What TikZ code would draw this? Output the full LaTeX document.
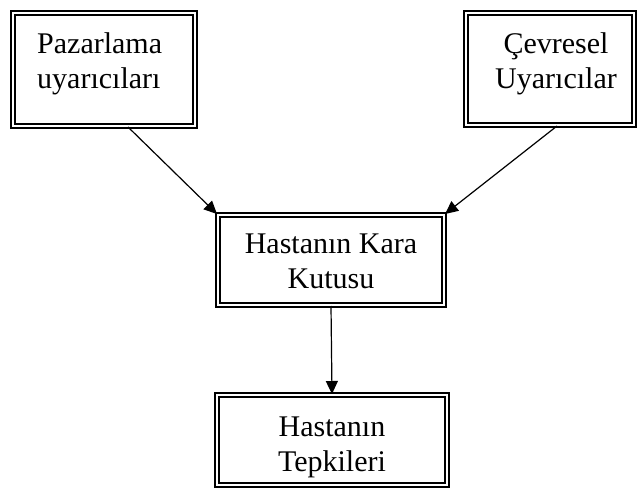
\documentclass[tikz,border=0pt]{standalone}
\usepackage{fontspec}
\setmainfont{Liberation Serif}
\usetikzlibrary{arrows.meta}

\tikzset{
  framebox/.style={draw=black, line width=2pt, double=white, double distance=1.6pt,
                   inner sep=0pt, minimum width=#1},
  boxtext/.style={inner sep=0pt, font=\fontsize{30}{35}\selectfont},
  flow/.style={draw=black, line width=1.2pt, -{Triangle[length=13pt,width=12pt]}}
}

\begin{document}
\begin{tikzpicture}[x=1pt, y=-1pt]
  \useasboundingbox (0,0) rectangle (639,489);

  % frames
  \node[framebox=182pt, minimum height=113pt] (mkt) at (104,69.5) {};
  \node[framebox=168pt, minimum height=112pt] (env) at (550,69) {};
  \node[framebox=226pt, minimum height=90pt] (box) at (331,260) {};
  \node[framebox=230pt, minimum height=90pt] (resp) at (332,440) {};

  % labels
  \node[boxtext, align=left, anchor=west] (mktT) at (37,63.5) {Pazarlama\\uyarıcıları};
  \node[boxtext, align=center] (envT) at (556,63.5) {Çevresel\\Uyarıcılar};
  \node[boxtext, align=center] (boxT) at (331,261) {Hastanın Kara\\Kutusu};
  \node[boxtext, align=center] (respT) at (332,447) {Hastanın\\Tepkileri};

  % connectors
  \draw[flow] ([xshift=24pt]mkt.south) -- (box.north west);
  \draw[flow] ([xshift=7pt]env.south) -- (box.north east);
  \draw[flow] (box.south) -- (resp.north);
\end{tikzpicture}
\end{document}
